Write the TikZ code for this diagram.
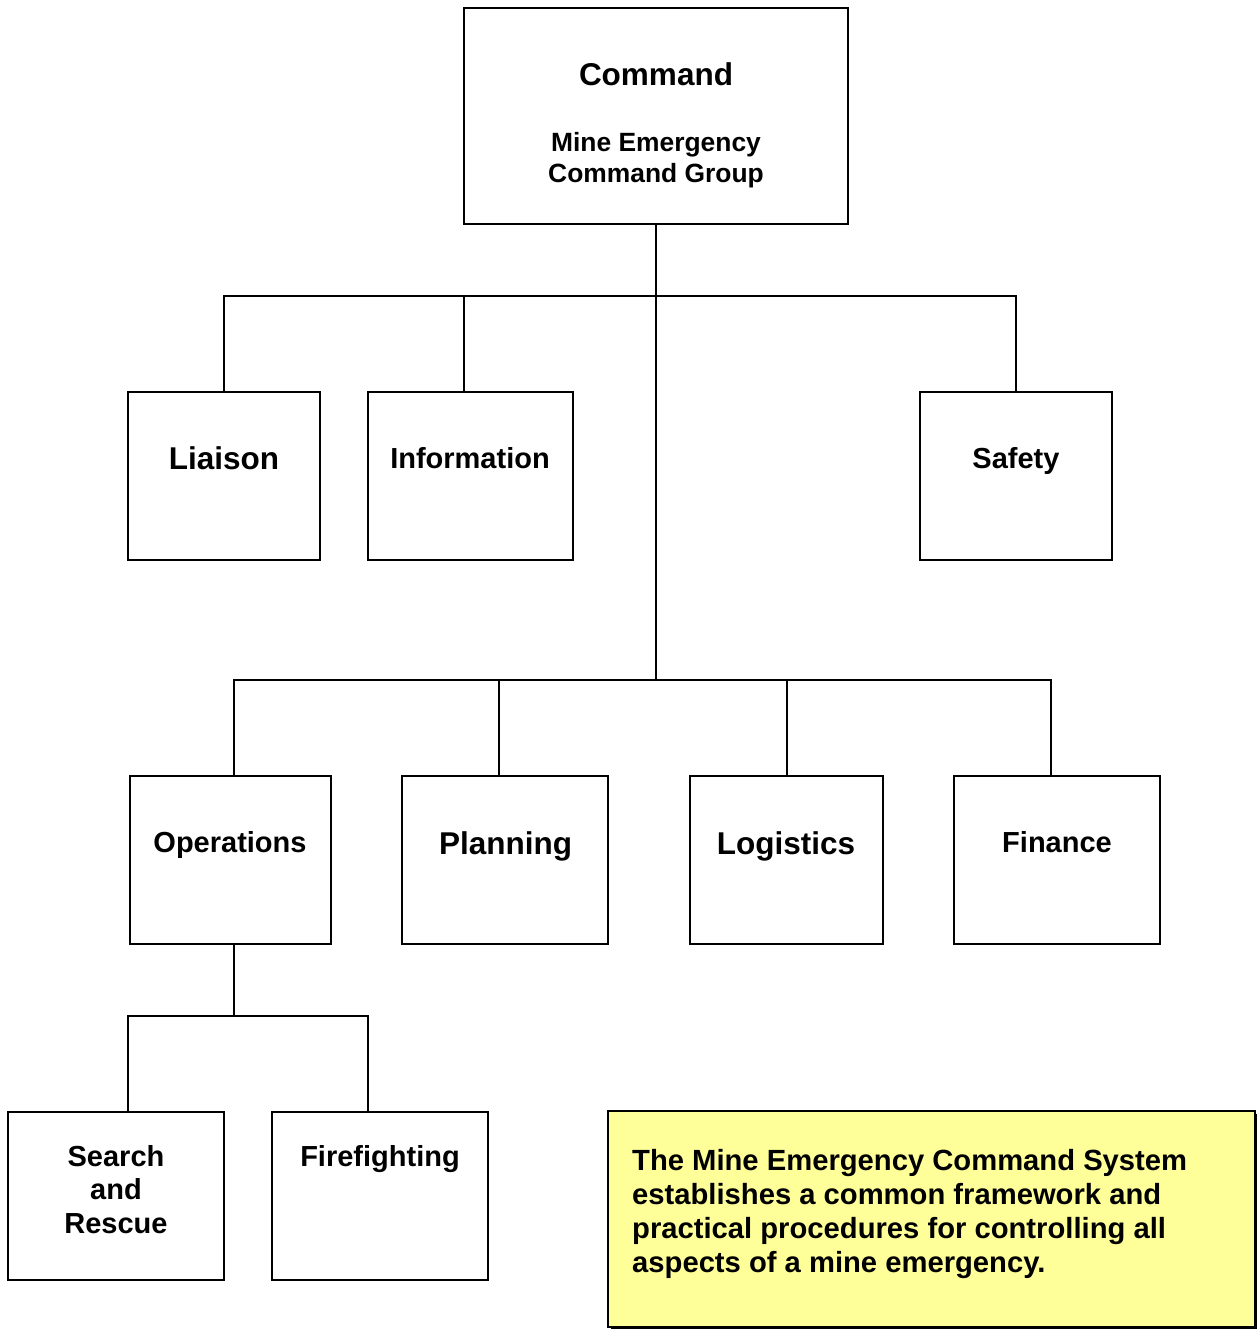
\documentclass[tikz,border=0pt]{standalone}
\usepackage{fontspec}
\setmainfont{Liberation Sans}
\definecolor{noteyellow}{HTML}{FFFF99}
\begin{document}
\begin{tikzpicture}[x=1pt,y=-1pt,
  box/.style={draw=black,line width=2.4pt,fill=white,inner sep=0pt},
  lbl/.style={anchor=base,inner sep=0pt,font=\bfseries\fontsize{29}{34}\selectfont},
  biglbl/.style={anchor=base,inner sep=0pt,font=\bfseries\fontsize{31.5}{36}\selectfont},
  notelbl/.style={anchor=base west,inner sep=0pt,font=\bfseries\fontsize{29.2}{34}\selectfont},
  conn/.style={draw=black,line width=2pt}]
\useasboundingbox (0,0) rectangle (1256,1329);
\fill[white] (0,0) rectangle (1256,1329);

% junction coordinates
\coordinate (j1) at (656,296);
\coordinate (j2) at (656,680);
\coordinate (j3) at (234,1016);

% boxes
\node[box,minimum width=384pt,minimum height=216pt] (cmd) at (656,116) {};
\node[box,minimum width=192pt,minimum height=168pt] (liaison) at (224,476) {};
\node[box,minimum width=205pt,minimum height=168pt] (info) at (470.5,476) {};
\node[box,minimum width=192pt,minimum height=168pt] (safety) at (1016,476) {};
\node[box,minimum width=201pt,minimum height=168pt] (ops) at (230.5,860) {};
\node[box,minimum width=206pt,minimum height=168pt] (plan) at (505,860) {};
\node[box,minimum width=193pt,minimum height=168pt] (logi) at (786.5,860) {};
\node[box,minimum width=206pt,minimum height=168pt] (fin) at (1057,860) {};
\node[box,minimum width=216pt,minimum height=168pt] (sar) at (116,1196) {};
\node[box,minimum width=216pt,minimum height=168pt] (fire) at (380,1196) {};

% connectors
\draw[conn] (cmd.south) -- (j2);
\draw[conn] (liaison.north) -- (liaison.north |- j1) -- (safety.north |- j1) -- (safety.north);
\draw[conn] ([xshift=-6.5pt]info.north) -- ([xshift=-6.5pt]info.north |- j1);
\draw[conn] ([xshift=3.5pt]ops.north) -- ([xshift=3.5pt]ops.north |- j2) -- ([xshift=-6pt]fin.north |- j2) -- ([xshift=-6pt]fin.north);
\draw[conn] ([xshift=-6pt]plan.north) -- ([xshift=-6pt]plan.north |- j2);
\draw[conn] ([xshift=0.5pt]logi.north) -- ([xshift=0.5pt]logi.north |- j2);
\draw[conn] ([xshift=3.5pt]ops.south) -- (j3);
\draw[conn] ([xshift=12pt]sar.north) -- ([xshift=12pt]sar.north |- j3) -- ([xshift=-12pt]fire.north |- j3) -- ([xshift=-12pt]fire.north);

% texts
\node[biglbl] (tcmd) at (656,86) {Command};
\node[anchor=base,inner sep=0pt,font=\bfseries\fontsize{26.4}{31}\selectfont] (tmecg1) at (656,151.5) {Mine Emergency};
\node[anchor=base,inner sep=0pt,font=\bfseries\fontsize{26.4}{31}\selectfont] (tmecg2) at (656,182.5) {Command Group};
\node[biglbl] (tliaison) at (224,469) {Liaison};
\node[lbl] (tinfo) at (470,468) {Information};
\node[lbl] (tsafety) at (1016,468) {Safety};
\node[lbl] (tops) at (230,852) {Operations};
\node[biglbl] (tplan) at (505.5,854) {Planning};
\node[biglbl] (tlogi) at (786,854) {Logistics};
\node[lbl] (tfin) at (1057,852) {Finance};
\node[lbl] (tsar1) at (116,1166) {Search};
\node[lbl] (tsar2) at (116,1199.5) {and};
\node[lbl] (tsar3) at (116,1233.5) {Rescue};
\node[lbl] (tfire) at (380,1166) {Firefighting};

% note box with slight shadow
\fill[black] (611,1114) rectangle (1257,1330);
\node[draw=black,line width=2pt,fill=noteyellow,minimum width=647pt,minimum height=216pt,inner sep=0pt] (note) at (931.5,1219) {};
\node[notelbl] (tnote1) at (632,1170) {The Mine Emergency Command System};
\node[notelbl] (tnote2) at (632,1204) {establishes a common framework and};
\node[notelbl] (tnote3) at (632,1238) {practical procedures for controlling all};
\node[notelbl] (tnote4) at (632,1272) {aspects of a mine emergency.};
\end{tikzpicture}
\end{document}
